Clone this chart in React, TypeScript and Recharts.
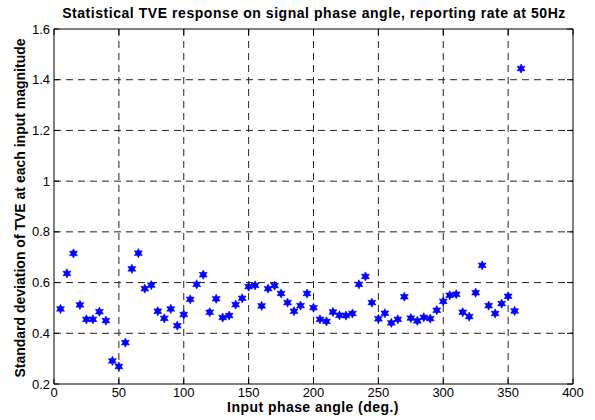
import { ScatterChart, Scatter, XAxis, YAxis, CartesianGrid } from 'recharts';

const angles = [
  5, 10, 15, 20, 25, 30, 35, 40, 45, 50, 55, 60, 65, 70, 75, 80, 85, 90,
  95, 100, 105, 110, 115, 120, 125, 130, 135, 140, 145, 150, 155, 160, 165, 170, 175, 180,
  185, 190, 195, 200, 205, 210, 215, 220, 225, 230, 235, 240, 245, 250, 255, 260, 265, 270,
  275, 280, 285, 290, 295, 300, 305, 310, 315, 320, 325, 330, 335, 340, 345, 350, 355, 360,
];

const tveStd = [
  0.496, 0.636, 0.715, 0.512, 0.455, 0.455, 0.485, 0.45, 0.291, 0.269, 0.363, 0.654, 0.716, 0.576, 0.59, 0.487, 0.459, 0.496,
  0.43, 0.474, 0.534, 0.593, 0.631, 0.483, 0.536, 0.462, 0.47, 0.513, 0.538, 0.584, 0.589, 0.508, 0.576, 0.588, 0.557, 0.521,
  0.487, 0.509, 0.557, 0.501, 0.455, 0.447, 0.484, 0.471, 0.47, 0.478, 0.593, 0.624, 0.521, 0.457, 0.479, 0.441, 0.455, 0.544,
  0.46, 0.449, 0.463, 0.458, 0.491, 0.526, 0.55, 0.554, 0.483, 0.466, 0.56, 0.668, 0.509, 0.478, 0.517, 0.546, 0.488, 1.444,
];

const xTicks = [0, 50, 100, 150, 200, 250, 300, 350, 400];
const yTicks = [0.2, 0.4, 0.6, 0.8, 1, 1.2, 1.4, 1.6];
// grid only on the inner ticks, the box is drawn by the axes
const xGrid = [50, 100, 150, 200, 250, 300, 350];
const yGrid = [0.4, 0.6, 0.8, 1, 1.2, 1.4];

const data = angles.map((a, i) => ({ angle: a, std: tveStd[i] }));

const FONT = '"Liberation Sans", Arial, Helvetica, sans-serif';

// six pointed star, like the matlab marker at this size
const StarMarker = (props: any) => {
  const { cx, cy } = props;
  if (cx == null || cy == null) return null;
  const pts: string[] = [];
  for (let k = 0; k < 12; k++) {
    const r = k % 2 === 0 ? 4.6 : 2.5;
    const ang = (Math.PI / 6) * k - Math.PI / 2;
    pts.push(`${cx + r * Math.cos(ang)},${cy + r * Math.sin(ang)}`);
  }
  return <polygon points={pts.join(' ')} fill="#0000ff" stroke="#0000ff" strokeWidth={0.6} />;
};

const NoMarker = () => null;

const fmtY = (v: number) => String(Number(v.toFixed(1)));
const blank = () => '';

export default function App() {
  const tickStyle = { fontSize: 13, fill: '#000', fontFamily: FONT };
  return (
    <div style={{ position: 'absolute', left: 0, top: 0, width: 595, height: 420, background: '#fff' }}>
      <ScatterChart width={595} height={420} margin={{ top: 28, right: 21, bottom: 0, left: 0 }}>
        <CartesianGrid
          xAxisId="b"
          yAxisId="l"
          stroke="#222"
          strokeDasharray="7 5"
          horizontalValues={yGrid}
          verticalValues={xGrid}
        />
        <XAxis
          xAxisId="b"
          type="number"
          dataKey="angle"
          domain={[0, 400]}
          ticks={xTicks}
          height={36}
          tickSize={-5}
          tickMargin={9}
          tick={tickStyle}
          axisLine={{ stroke: '#000' }}
          tickLine={{ stroke: '#000' }}
          interval={0}
        />
        <XAxis
          xAxisId="t"
          orientation="top"
          type="number"
          dataKey="angle"
          domain={[0, 400]}
          ticks={xTicks}
          height={1}
          tickSize={-6}
          tick={{ fontSize: 1, fill: 'none' }}
          tickFormatter={blank}
          axisLine={{ stroke: '#000' }}
          tickLine={{ stroke: '#000' }}
          interval={0}
        />
        <YAxis
          yAxisId="l"
          type="number"
          dataKey="std"
          domain={[0.2, 1.6]}
          ticks={yTicks}
          width={54}
          tickSize={-5}
          tickMargin={9}
          tick={tickStyle}
          tickFormatter={fmtY}
          axisLine={{ stroke: '#000' }}
          tickLine={{ stroke: '#000' }}
          interval={0}
        />
        <YAxis
          yAxisId="r"
          orientation="right"
          type="number"
          dataKey="std"
          domain={[0.2, 1.6]}
          ticks={yTicks}
          width={1}
          tickSize={-6}
          tick={{ fontSize: 1, fill: 'none' }}
          tickFormatter={blank}
          axisLine={{ stroke: '#000' }}
          tickLine={{ stroke: '#000' }}
          interval={0}
        />
        <Scatter
          xAxisId="t"
          yAxisId="r"
          data={data}
          shape={NoMarker}
          isAnimationActive={false}
        />
        <Scatter
          xAxisId="b"
          yAxisId="l"
          data={data}
          shape={StarMarker}
          isAnimationActive={false}
        />
      </ScatterChart>
      <svg
        width={595}
        height={420}
        style={{ position: 'absolute', left: 0, top: 0, pointerEvents: 'none' }}
      >
        <text
          x={314}
          y={18}
          textAnchor="middle"
          fontFamily={FONT}
          fontWeight="bold"
          fontSize={14}
          letterSpacing={0.55}
        >
          Statistical TVE response on signal phase angle, reporting rate at 50Hz
        </text>
        <text
          x={313}
          y={412}
          textAnchor="middle"
          fontFamily={FONT}
          fontWeight="bold"
          fontSize={14}
          letterSpacing={0.45}
        >
          Input phase angle (deg.)
        </text>
        <text
          x={19.5}
          y={208}
          textAnchor="middle"
          dominantBaseline="central"
          transform="rotate(-90 19.5 208)"
          fontFamily={FONT}
          fontWeight="bold"
          fontSize={14}
        >
          Standard deviation of TVE at each input magnitude
        </text>
      </svg>
    </div>
  );
}
